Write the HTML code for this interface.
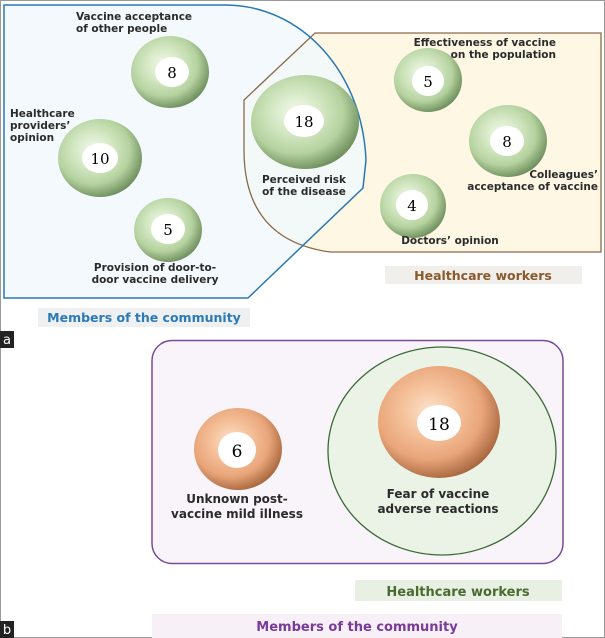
<!DOCTYPE html>
<html><head><meta charset="utf-8"><style>
html,body{margin:0;padding:0;background:#fff}
svg{display:block}
text{font-family:"DejaVu Sans","Liberation Sans",sans-serif;font-weight:bold}
</style></head><body>
<svg width="605" height="638" viewBox="0 0 605 638" xmlns="http://www.w3.org/2000/svg">
<defs>
<radialGradient id="g" cx="0.42" cy="0.4" r="0.62">
<stop offset="0" stop-color="#f4faee"/><stop offset="0.35" stop-color="#d6e9c6"/><stop offset="0.7" stop-color="#b5d29f"/><stop offset="1" stop-color="#6f8f5e"/></radialGradient>
<radialGradient id="o" cx="0.42" cy="0.4" r="0.62">
<stop offset="0" stop-color="#fde2cc"/><stop offset="0.35" stop-color="#f5c29c"/><stop offset="0.7" stop-color="#e9a57a"/><stop offset="1" stop-color="#a9683f"/></radialGradient>
</defs>
<rect x="0.5" y="0.5" width="604" height="637" fill="#fff" stroke="#999"/>
<!-- part a -->
<path d="M315,33 H601 V252 H330 Q244,240 244,150 V100 Z" fill="#fdf7e4"/>
<path d="M4,5 H225 C300,5 362,70 366,160 L363,188 L248,298 H4 Z" fill="rgba(240,248,252,0.8)"/>
<path d="M315,33 H601 V252 H330 Q244,240 244,150 V100 Z" fill="none" stroke="#8b6a4a" stroke-width="1.3"/>
<path d="M4,5 H225 C300,5 362,70 366,160 L363,188 L248,298 H4 Z" fill="none" stroke="#2a78b0" stroke-width="1.5"/>

<g>
<ellipse cx="170" cy="72" rx="39" ry="36" fill="url(#g)"/><ellipse cx="172" cy="72" rx="17" ry="15" fill="#fff"/><text x="172" y="78" font-family="DejaVu Serif" font-weight="normal" font-size="15" text-anchor="middle" style="font-family:'DejaVu Serif',serif;font-weight:normal">8</text>
<ellipse cx="100" cy="158" rx="42" ry="39" fill="url(#g)"/><ellipse cx="100" cy="158" rx="18" ry="15" fill="#fff"/><text x="100" y="164" text-anchor="middle" font-size="15" style="font-family:'DejaVu Serif',serif;font-weight:normal">10</text>
<ellipse cx="168" cy="230" rx="34" ry="32" fill="url(#g)"/><ellipse cx="168" cy="229" rx="17" ry="15" fill="#fff"/><text x="168" y="235" text-anchor="middle" font-size="15" style="font-family:'DejaVu Serif',serif;font-weight:normal">5</text>
<ellipse cx="305" cy="122" rx="54" ry="47" fill="url(#g)"/><ellipse cx="304" cy="121" rx="20" ry="16" fill="#fff"/><text x="304" y="127" text-anchor="middle" font-size="15" style="font-family:'DejaVu Serif',serif;font-weight:normal">18</text>
<ellipse cx="428" cy="80" rx="34" ry="32" fill="url(#g)"/><ellipse cx="428" cy="81" rx="16" ry="15" fill="#fff"/><text x="428" y="87" text-anchor="middle" font-size="15" style="font-family:'DejaVu Serif',serif;font-weight:normal">5</text>
<ellipse cx="508" cy="141" rx="39" ry="36" fill="url(#g)"/><ellipse cx="507" cy="141" rx="17" ry="15" fill="#fff"/><text x="507" y="147" text-anchor="middle" font-size="15" style="font-family:'DejaVu Serif',serif;font-weight:normal">8</text>
<ellipse cx="413" cy="206" rx="33" ry="32" fill="url(#g)"/><ellipse cx="412" cy="205" rx="16" ry="15" fill="#fff"/><text x="412" y="211" text-anchor="middle" font-size="15" style="font-family:'DejaVu Serif',serif;font-weight:normal">4</text>
</g>

<g font-size="10.5" fill="#2b2b2b">
<text x="76" y="20">Vaccine acceptance</text>
<text x="76" y="32">of other people</text>
<text x="10" y="117">Healthcare</text>
<text x="10" y="129">providers’</text>
<text x="10" y="141">opinion</text>
<text x="155" y="271" text-anchor="middle">Provision of door-to-</text>
<text x="155" y="283" text-anchor="middle">door vaccine delivery</text>
<text x="304" y="183" text-anchor="middle">Perceived risk</text>
<text x="304" y="195" text-anchor="middle">of the disease</text>
<text x="556" y="46" text-anchor="end">Effectiveness of vaccine</text>
<text x="556" y="58" text-anchor="end">on the population</text>
<text x="598" y="178" text-anchor="end">Colleagues’</text>
<text x="598" y="190" text-anchor="end">acceptance of vaccine</text>
<text x="450" y="244" text-anchor="middle">Doctors’ opinion</text>
</g>

<rect x="38" y="308" width="212" height="19" fill="#eef0f2"/>
<text x="144" y="322" text-anchor="middle" font-size="12.5" fill="#2a7ab8">Members of the community</text>
<rect x="385" y="266" width="197" height="18" fill="#f1efec"/>
<text x="483" y="280" text-anchor="middle" font-size="12.5" fill="#8b5a2b">Healthcare workers</text>

<rect x="0" y="331" width="14" height="17" fill="#222"/>
<text x="7" y="344" text-anchor="middle" font-size="13" fill="#fff" style="font-weight:normal">a</text>

<!-- part b -->
<rect x="152" y="340.5" width="411" height="223" rx="20" fill="#f9f4f9" stroke="#7a4a9a" stroke-width="1.5"/>
<ellipse cx="442" cy="451" rx="114" ry="104" fill="#eaf3e6" stroke="#3a6a35" stroke-width="1.3"/>
<ellipse cx="439" cy="422" rx="61" ry="56" fill="url(#o)"/><ellipse cx="439" cy="423" rx="22" ry="18" fill="#fff"/><text x="439" y="430" text-anchor="middle" font-size="17" style="font-family:'DejaVu Serif',serif;font-weight:normal">18</text>
<ellipse cx="238" cy="449" rx="44" ry="41" fill="url(#o)"/><ellipse cx="237" cy="450" rx="19" ry="18" fill="#fff"/><text x="237" y="457" text-anchor="middle" font-size="17" style="font-family:'DejaVu Serif',serif;font-weight:normal">6</text>
<g font-size="12" fill="#2b2b2b">
<text x="237" y="503" text-anchor="middle">Unknown post-</text>
<text x="237" y="518" text-anchor="middle">vaccine mild illness</text>
<text x="438" y="498" text-anchor="middle">Fear of vaccine</text>
<text x="438" y="513" text-anchor="middle">adverse reactions</text>
</g>
<rect x="355" y="580" width="207" height="21" fill="#e8f0e4"/>
<text x="458" y="596" text-anchor="middle" font-size="13" fill="#4a6a30">Healthcare workers</text>
<rect x="152" y="614" width="410" height="24" fill="#f7f0f7"/>
<text x="357" y="631" text-anchor="middle" font-size="13" fill="#7a3a9a">Members of the community</text>

<rect x="0" y="621" width="14" height="17" fill="#222"/>
<text x="7" y="634" text-anchor="middle" font-size="13" fill="#fff" style="font-weight:normal">b</text>
</svg>
</body></html>
